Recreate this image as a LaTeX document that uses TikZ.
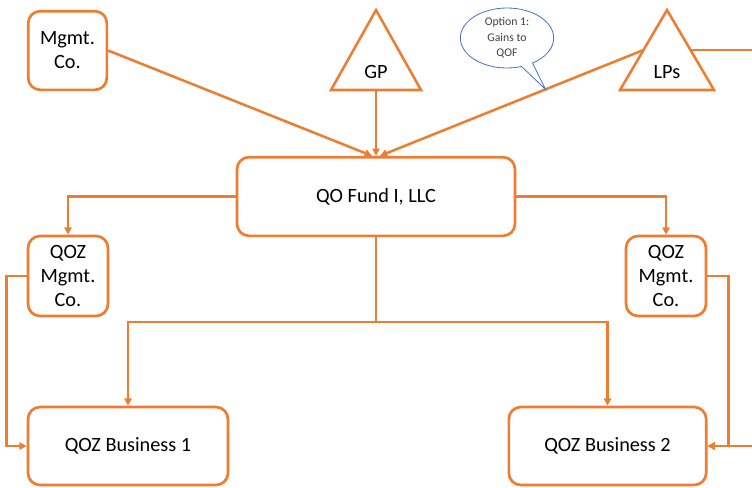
\documentclass[tikz,border=0pt]{standalone}
\usepackage{fontspec}
\setmainfont{Carlito}
\usepackage{tikz}
\usetikzlibrary{arrows.meta,shapes.callouts,calc}
\definecolor{orgc}{RGB}{237,125,49}
\definecolor{bluec}{RGB}{68,114,196}
\tikzset{box/.style={draw=orgc,line width=2pt,rounded corners=9pt,fill=white,align=center,inner sep=1pt,font=\fontsize{15.2}{18}\selectfont},
  conn/.style={draw=orgc,line width=1.9pt,-{Triangle[length=5.5pt,width=5.5pt]}},
  line/.style={draw=orgc,line width=1.9pt}}

\begin{document}
\begin{tikzpicture}[x=0.75pt,y=-0.75pt,>=Latex]
\useasboundingbox (0,0) rectangle (752,487);
\node[box,minimum width=59pt,minimum height=59pt] (mgmt) at (67.5,50.5){Mgmt.\\Co.};
\node[box,minimum width=208.5pt,minimum height=59pt] (fund) at (376,196.5){QO Fund I, LLC};
\node[box,minimum width=60pt,minimum height=60pt] (qozl) at (68,276){QOZ\\Mgmt.\\Co.};
\node[box,minimum width=60pt,minimum height=60pt] (qozr) at (666,276){QOZ\\Mgmt.\\Co.};
\node[box,minimum width=150pt,minimum height=58.5pt] (bus1) at (128,446){QOZ Business 1};
\node[box,minimum width=148pt,minimum height=58.5pt] (bus2) at (607.5,446){QOZ Business 2};
\draw[line,line join=miter] (376,10)--(421,90)--(331,90)--cycle;
\draw[line,line join=miter] (667,10)--(714,90)--(620,90)--cycle;
\node[font=\fontsize{15.2}{18}\selectfont] (gp) at (376,72){GP};
\node[font=\fontsize{15.2}{18}\selectfont] (lps) at (667,72){LPs};
\coordinate (gpb) at (376,90);
\coordinate (lpl) at (643.5,50);
\coordinate (lpr) at (690.5,50);
\coordinate (edgeT) at (752,50);
\coordinate (edgeB) at (752,446);
\coordinate (split) at (376,322);
\draw[conn] (mgmt.east) -- ([xshift=-3pt]fund.north);
\draw[conn] (gpb) -- (fund.north);
\draw[conn] (lpl) -- ([xshift=3pt]fund.north);
\draw[line] (lpr) -- (edgeT);
\draw[conn] (fund.west) -| (qozl.north);
\draw[conn] (fund.east) -| (qozr.north);
\draw[line] (fund.south) -- (split);
\draw[conn] (split) -| (bus1.north);
\draw[conn] (split) -| (bus2.north);
\draw[conn] (qozl.west) -- ++(-20,0) |- (bus1.west);
\draw[conn] (qozr.east) -- ++(21,0) |- (bus2.east);
\draw[conn] (edgeB) -- (bus2.east);
\node[ellipse callout,draw=bluec,line width=0.6pt,fill=white,minimum width=70pt,minimum height=45pt,inner sep=0pt,align=center,text=black!75,font=\fontsize{8.8}{11.5}\selectfont,
  callout absolute pointer={($(lpl)!0.372!([xshift=3pt]fund.north)$)}] (opt) at (507,38){Option 1:\\Gains to\\QOF};
\end{tikzpicture}
\end{document}
